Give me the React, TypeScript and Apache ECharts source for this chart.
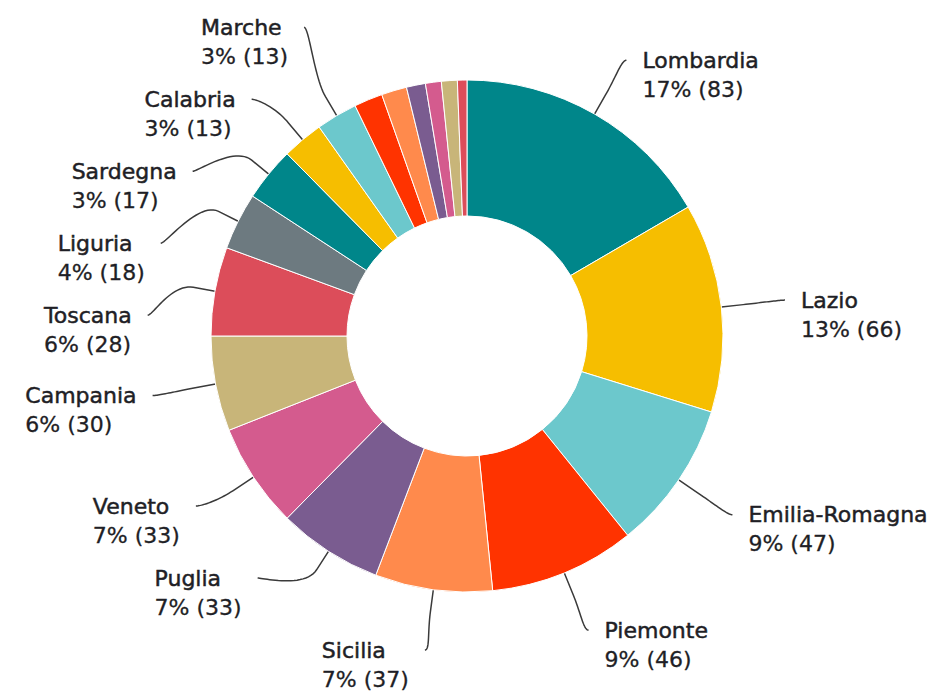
import React, { useEffect, useRef } from "react";
import * as echarts from "echarts";

const regions = [
  "Lombardia", "Lazio", "Emilia-Romagna", "Piemonte", "Sicilia", "Puglia", "Veneto",
  "Campania", "Toscana", "Liguria", "Sardegna", "Calabria", "Marche",
  "Friuli-Venezia Giulia", "Trentino-Alto Adige", "Abruzzo", "Umbria", "Basilicata", "Molise",
];
const values = [83, 66, 47, 46, 37, 33, 33, 30, 28, 18, 17, 13, 13, 9, 8, 6, 5, 5, 3];
const percents = [17, 13, 9, 9, 7, 7, 7, 6, 6, 4, 3, 3, 3, 2, 2, 1, 1, 1, 1];
const labelled = [true, true, true, true, true, true, true, true, true, true, true, true, true,
  false, false, false, false, false, false];
const palette = ["#00868A", "#F6BE00", "#6CC8CC", "#FF3300", "#FF8A4C", "#7A5C90", "#D45B8E", "#C8B579", "#DC4D5A", "#6D7A80"];

const CX = 467, CY = 336, R_IN = 120, R_OUT = 256;
const BREAK = 22;      // connector break distance beyond the slice
const R_LABEL = 320;   // radius of the connector end circle
const SLOT = 72;       // vertical slot per label
const MIN_Y = 23, MAX_Y = 650;
const GAP = 16, LINE_H = 29;

type Box = { size: number; targets: number[]; members: number[]; pos: number };

function distribute(items: { idx: number; target: number }[]): Map<number, number> {
  const sorted = [...items].sort((a, b) => a.target - b.target);
  const boxes: Box[] = sorted.map((it) => ({ size: SLOT, targets: [it.target], members: [it.idx], pos: 0 }));
  const lo = MIN_Y - SLOT / 2, hi = MAX_Y + SLOT / 2;
  let overlapping = true;
  let guard = 0;
  while (overlapping && guard++ < 100) {
    for (const b of boxes) {
      const t = (Math.min(...b.targets) + Math.max(...b.targets)) / 2;
      b.pos = Math.min(Math.max(t - b.size / 2, lo), hi - b.size);
    }
    overlapping = false;
    for (let i = boxes.length - 1; i > 0; i--) {
      const p = boxes[i - 1], c = boxes[i];
      if (p.pos + p.size > c.pos + 0.01) {
        p.size += c.size;
        p.targets = p.targets.concat(c.targets);
        p.members = p.members.concat(c.members);
        boxes.splice(i, 1);
        overlapping = true;
      }
    }
  }
  const out = new Map<number, number>();
  for (const b of boxes) b.members.forEach((m, k) => out.set(m, b.pos + SLOT * k + SLOT / 2));
  return out;
}

function buildLayout() {
  const total = values.reduce((a, b) => a + b, 0);
  let acc = 0;
  const mids: number[] = values.map((v) => {
    const m = ((acc + v / 2) / total) * Math.PI * 2;
    acc += v;
    return m;
  });
  const left: { idx: number; target: number }[] = [];
  const right: { idx: number; target: number }[] = [];
  mids.forEach((a, i) => {
    if (!labelled[i]) return;
    const target = CY - Math.cos(a) * (R_LABEL - 2);
    (Math.sin(a) < 0 ? left : right).push({ idx: i, target });
  });
  const ys = new Map<number, number>([...distribute(left), ...distribute(right)]);
  const layout: Record<number, any> = {};
  ys.forEach((y, i) => {
    const a = mids[i];
    const sx = Math.sin(a), sy = -Math.cos(a);
    const isLeft = sx < 0;
    const dir = isLeft ? -1 : 1;
    const dy = y - CY;
    const ex = Math.abs(dy) > 0.8 * R_LABEL
      ? CX + sx * R_LABEL
      : CX + dir * Math.sqrt(R_LABEL * R_LABEL - dy * dy);
    const t = [CX + sx * R_OUT, CY + sy * R_OUT];
    const b = [CX + sx * (R_OUT + BREAK), CY + sy * (R_OUT + BREAK)];
    const p0 = [ex, y];
    const c1 = [ex - dir * 5, y];
    const c2 = [2 * b[0] - t[0], 2 * b[1] - t[1]];
    // cubic P0 = p0 (label end) -> P3 = b (break); sample from b back to p0
    const pts: number[][] = [t, b];
    const N = 24;
    for (let k = 1; k <= N; k++) {
      const s = 1 - k / N;
      const u = 1 - s;
      const xx = u * u * u * p0[0] + 3 * u * u * s * c1[0] + 3 * u * s * s * c2[0] + s * s * s * b[0];
      const yy = u * u * u * p0[1] + 3 * u * u * s * c1[1] + 3 * u * s * s * c2[1] + s * s * s * b[1];
      pts.push([xx, yy]);
    }
    layout[i] = {
      x: ex + dir * GAP,
      y: y - LINE_H / 2,
      align: isLeft ? "right" : "left",
      points: pts,
    };
  });
  return layout;
}

export default function App() {
  const ref = useRef<HTMLDivElement>(null);
  useEffect(() => {
    const chart = echarts.init(ref.current!, null, { renderer: "svg" });
    const layout = buildLayout();
    const data = regions.map((name, i) => ({
      name,
      value: values[i],
      pct: percents[i],
      itemStyle: { color: palette[i % palette.length] },
      label: { show: labelled[i] },
      labelLine: { show: labelled[i] },
    }));
    const font = "DejaVu Sans";
    const ink = "#1f1f26";
    chart.setOption({
      animation: false,
      backgroundColor: "#fff",
      series: [
        {
          type: "pie",
          center: [CX, CY],
          radius: [R_IN, R_OUT],
          startAngle: 90,
          clockwise: true,
          avoidLabelOverlap: false,
          itemStyle: { borderColor: "#fff", borderWidth: 1 },
          label: {
            show: true,
            position: "outside",
            alignTo: "none",
            overflow: "none",
            fontFamily: font,
            formatter: (p: any) => `{n|${p.name}}\n{v|${p.data.pct}% (${p.value})}`,
            rich: {
              n: {
                fontSize: 22, lineHeight: LINE_H, color: ink, align: "left", fontFamily: font,
                textBorderColor: ink, textBorderWidth: 0.5,
              },
              v: {
                fontSize: 22, lineHeight: LINE_H, color: ink, align: "left", fontFamily: font,
                textBorderColor: ink, textBorderWidth: 0.3,
              },
            },
          },
          labelLine: {
            show: true,
            length: 15,
            length2: 8,
            smooth: false,
            lineStyle: { color: "#3a3a3a", width: 1.5 },
          },
          labelLayout: (params: any) => {
            const L = layout[params.dataIndex];
            if (!L) return {};
            return {
              x: L.x,
              y: L.y,
              align: L.align,
              verticalAlign: "top",
              labelLinePoints: L.points,
            };
          },
          data,
        },
      ],
    });
    return () => chart.dispose();
  }, []);
  return <div ref={ref} style={{ position: "fixed", left: 0, top: 0, width: 944, height: 691 }} />;
}
